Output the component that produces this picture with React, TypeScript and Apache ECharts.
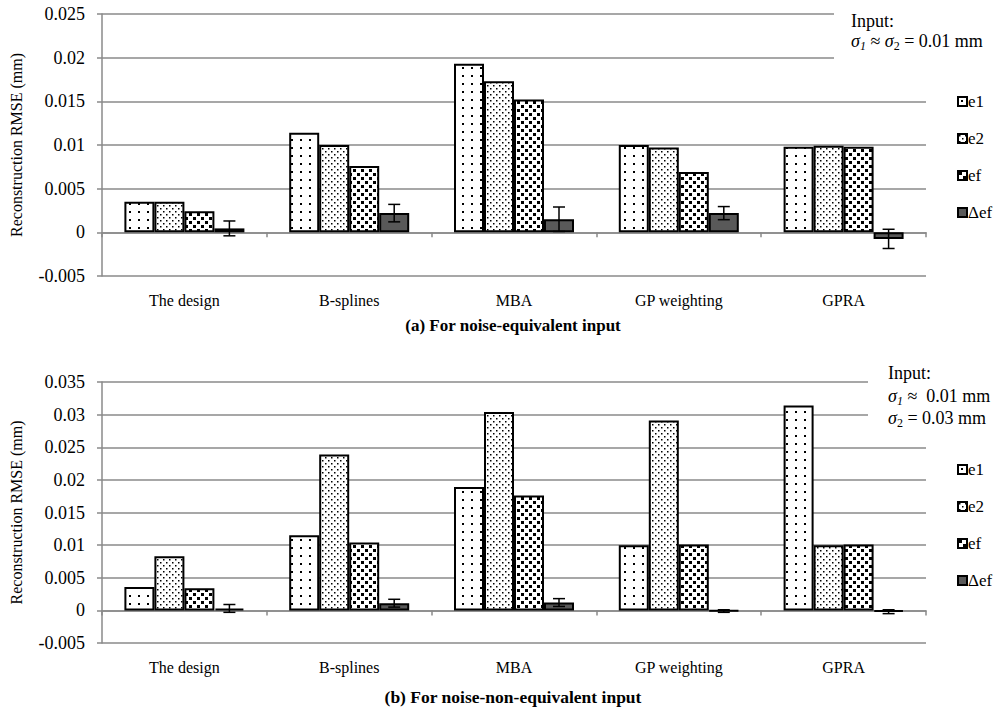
import React, { useEffect, useRef } from "react";
import * as echarts from "echarts";

const categories = ["The design", "B-splines", "MBA", "GP weighting", "GPRA"];
const seriesNames = ["e1", "e2", "ef", "Δef"];
const yTicksA = [-0.005, 0.025, 0.005];
const yTicksB = [-0.005, 0.035, 0.005];

// (a) noise-equivalent input
const e1A = [0.0035, 0.0114, 0.0193, 0.0100, 0.0098];
const e2A = [0.0035, 0.0100, 0.0173, 0.0097, 0.0099];
const efA = [0.0024, 0.0076, 0.0152, 0.0069, 0.0098];
const dA = [0.00045, 0.0022, 0.0015, 0.0022, -0.00075];
const errA = [0.00085, 0.001, 0.0014, 0.00075, 0.0011];

// (b) noise-non-equivalent input
const e1B = [0.0036, 0.0115, 0.0189, 0.0100, 0.0314];
const e2B = [0.0083, 0.0239, 0.0304, 0.0291, 0.0100];
const efB = [0.0034, 0.0104, 0.0176, 0.0101, 0.0101];
const dB = [0.0003, 0.0011, 0.0012, -0.0001, -0.0002];
const errB = [0.0006, 0.0006, 0.0006, 0.0002, 0.0003];

const titleA = "(a) For noise-equivalent input";
const titleB = "(b) For noise-non-equivalent input";
const yName = "Reconstruction RMSE (mm)";

const FONT = "'Times New Roman', 'Liberation Serif', 'DejaVu Serif', serif";
const GRID_GRAY = "#8a8a8a";
const BAR_W = 30;

function makePattern(w: number, h: number, dots: [number, number, number][]) {
  const c = document.createElement("canvas");
  c.width = w;
  c.height = h;
  const ctx = c.getContext("2d")!;
  ctx.fillStyle = "#fff";
  ctx.fillRect(0, 0, w, h);
  ctx.fillStyle = "#000";
  for (const [x, y, s] of dots) ctx.fillRect(x, y, s, s);
  return { image: c, repeat: "repeat", imageWidth: w, imageHeight: h };
}

export default function App() {
  const ref = useRef<HTMLDivElement>(null);
  useEffect(() => {
    if (!ref.current) return;
    const chart = echarts.init(ref.current, null, { renderer: "svg" });

    const pE1 = makePattern(9, 8, [[3, 3, 2]]);
    const pE2 = makePattern(6, 6, [[1, 1, 1.5], [4, 4, 1.5]]);
    const pEf = makePattern(8, 8, [[1, 1, 3], [5, 5, 3]]);
    const colors: any[] = [pE1, pE2, pEf, "#595959"];

    const fmt = (v: number) => String(parseFloat(v.toFixed(4)));

    const xZero = (g: number) => ({
      type: "category",
      gridIndex: g,
      data: categories,
      position: "bottom",
      axisLine: { onZero: true, lineStyle: { color: GRID_GRAY, width: 1.5 } },
      axisTick: { show: true, length: 5, lineStyle: { color: GRID_GRAY, width: 1.5 } },
      axisLabel: { show: false },
    });
    const xLab = (g: number) => ({
      type: "category",
      gridIndex: g,
      data: categories,
      position: "bottom",
      axisLine: { show: false, onZero: false },
      axisTick: { show: false },
      axisLabel: { show: true, margin: 16, fontSize: 16, color: "#000", fontFamily: FONT },
    });
    const yAx = (g: number, t: number[]) => ({
      type: "value",
      gridIndex: g,
      min: t[0],
      max: t[1],
      interval: t[2],
      name: yName,
      nameLocation: "middle",
      nameGap: 78,
      nameTextStyle: { fontSize: 16, color: "#000", fontFamily: FONT },
      axisLine: { show: true, lineStyle: { color: GRID_GRAY, width: 1.5 } },
      axisTick: { show: true, length: 5, lineStyle: { color: GRID_GRAY, width: 1.5 } },
      splitLine: { show: true, lineStyle: { color: GRID_GRAY, width: 1.5 } },
      axisLabel: { margin: 17, fontSize: 18, color: "#000", fontFamily: FONT, formatter: fmt },
    });

    const bars = (vals: number[][], xi: number, yi: number) =>
      vals.map((d, k) => ({
        type: "bar",
        name: seriesNames[k],
        xAxisIndex: xi,
        yAxisIndex: yi,
        data: d,
        barWidth: BAR_W,
        barGap: "0%",
        itemStyle: { color: colors[k], borderColor: "#000", borderWidth: 2 },
        z: 2,
      }));

    const errSeries = (vals: number[], errs: number[], xi: number, yi: number) => ({
      type: "custom",
      xAxisIndex: xi,
      yAxisIndex: yi,
      z: 5,
      data: vals.map((v, i) => [i, v, errs[i]]),
      renderItem: (params: any, api: any) => {
        const i = api.value(0);
        const v = api.value(1);
        const e = api.value(2);
        const top = api.coord([i, v + e]);
        const bot = api.coord([i, v - e]);
        const x = top[0] + BAR_W * 1.5;
        const st = { stroke: "#000", lineWidth: 1.5 };
        const hc = 6;
        return {
          type: "group",
          children: [
            { type: "line", shape: { x1: x, y1: top[1], x2: x, y2: bot[1] }, style: st },
            { type: "line", shape: { x1: x - hc, y1: top[1], x2: x + hc, y2: top[1] }, style: st },
            { type: "line", shape: { x1: x - hc, y1: bot[1], x2: x + hc, y2: bot[1] }, style: st },
          ],
        };
      },
    });

    const leg = (top: number) => ({
      orient: "vertical",
      left: 957,
      top,
      padding: 0,
      itemWidth: 9,
      itemHeight: 9,
      itemGap: 20,
      icon: "rect",
      data: seriesNames,
      selectedMode: false,
      textStyle: { fontSize: 17, color: "#000", fontFamily: FONT, lineHeight: 16, padding: [0, 0, 0, -4] },
    });

    const rich = {
      n: { fontSize: 18, fontFamily: FONT, lineHeight: 22, color: "#000" },
      i: { fontSize: 18, fontFamily: FONT, fontStyle: "italic", lineHeight: 22, color: "#000" },
      s: { fontSize: 12, fontFamily: FONT, fontStyle: "italic", verticalAlign: "bottom", lineHeight: 15, color: "#000" },
      s2: { fontSize: 12, fontFamily: FONT, verticalAlign: "bottom", lineHeight: 15, color: "#000" },
    };
    const txt = (x: number, y: number, text: string) => ({
      type: "text",
      x,
      y,
      z: 20,
      style: {
        text,
        fill: "#000",
        fontSize: 18,
        fontFamily: FONT,
        verticalAlign: "middle",
        rich,
      },
    });

    const option: any = {
      animation: false,
      textStyle: { fontFamily: FONT, color: "#000" },
      grid: [
        { left: 100, width: 826, top: 14, height: 262 },
        { left: 100, width: 826, top: 382, height: 261 },
      ],
      xAxis: [xZero(0), xLab(0), xZero(1), xLab(1)],
      yAxis: [yAx(0, yTicksA), yAx(1, yTicksB)],
      legend: [leg(93), leg(461)],
      series: [
        ...bars([e1A, e2A, efA, dA], 0, 0),
        errSeries(dA, errA, 0, 0),
        ...bars([e1B, e2B, efB, dB], 2, 1),
        errSeries(dB, errB, 2, 1),
      ],
      graphic: [
        { type: "rect", z: 15, shape: { x: 834, y: 0, width: 174, height: 64 }, style: { fill: "#fff" } },
        { type: "rect", z: 15, shape: { x: 868, y: 355, width: 140, height: 72 }, style: { fill: "#fff" } },
        txt(851, 21, "Input:"),
        txt(851, 41, "{i|σ}{s|1}{n| ≈ }{i|σ}{s2|2}{n| = 0.01 mm}"),
        txt(888, 373, "Input:"),
        txt(888, 396, "{i|σ}{s|1}{n| ≈  0.01 mm}"),
        txt(888, 418, "{i|σ}{s2|2}{n| = 0.03 mm}"),
        {
          type: "text",
          x: 513,
          y: 325,
          z: 20,
          style: { text: titleA, fill: "#000", fontSize: 17, fontWeight: "bold", fontFamily: FONT, align: "center", verticalAlign: "middle" },
        },
        {
          type: "text",
          x: 513,
          y: 697,
          z: 20,
          style: { text: titleB, fill: "#000", fontSize: 17.5, fontWeight: "bold", fontFamily: FONT, align: "center", verticalAlign: "middle" },
        },
      ],
    };
    chart.setOption(option);
    return () => chart.dispose();
  }, []);

  return (
    <div
      ref={ref}
      style={{ position: "fixed", left: 0, top: 0, width: 1008, height: 722, background: "#fff" }}
    />
  );
}
